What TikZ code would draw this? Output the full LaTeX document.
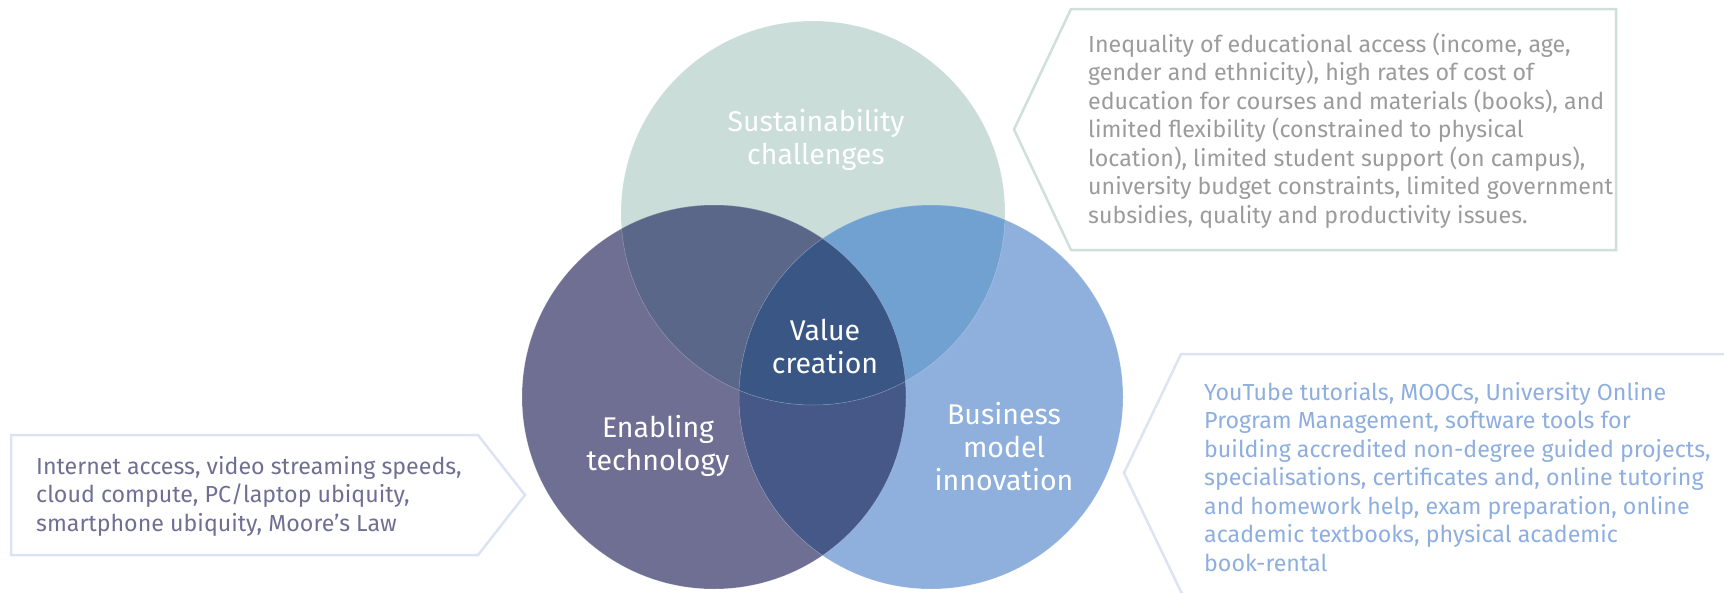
\documentclass[tikz,border=0pt]{standalone}
\usepackage{fontspec}
\setmainfont{Fira Sans}
\definecolor{sus}{HTML}{CADDD8}
\definecolor{tec}{HTML}{6F6F93}
\definecolor{bus}{HTML}{8FAFDC}
\definecolor{sustec}{HTML}{5A6788}
\definecolor{susbus}{HTML}{70A1D0}
\definecolor{tecbus}{HTML}{465888}
\definecolor{val}{HTML}{3A5684}
\definecolor{grn}{HTML}{CFE0DB}
\definecolor{lav}{HTML}{DCE3F4}
\definecolor{gry}{HTML}{9B9B9B}
\definecolor{blu}{HTML}{8DAEDE}
\begin{document}
\begin{tikzpicture}[x=1pt,y=-1pt]
\tikzstyle{lbl} = [align=center,text=white,font=\fontsize{28.5}{33}\selectfont] %circle label
\tikzstyle{note} = [anchor=north west,align=left,inner sep=0pt,font=\fontsize{23.2}{28.5}\selectfont] %callout text
\tikzstyle{box} = [line width=2.5pt,line join=miter] %callout outline
\tikzstyle{rim} = [radius=192pt] %circle size
\useasboundingbox (0,0) rectangle (1724,592);
% the three circles
\coordinate(cs)at(813,213);
\coordinate(ct)at(714,397);
\coordinate(cb)at(931,397);
\fill[sus](cs) circle[rim];
\fill[tec](ct) circle[rim];
\fill[bus](cb) circle[rim];
% overlaps
\begin{scope}
\clip(ct) circle[rim];
\fill[tecbus](cb) circle[rim];
\end{scope}
\begin{scope}
\clip(cs) circle[rim];
\fill[sustec](ct) circle[rim];
\fill[susbus](cb) circle[rim];
\clip(ct) circle[rim];
\fill[val](cb) circle[rim];
\end{scope}
\draw[white,opacity=0.3,line width=0.5pt](cs) circle[rim] (ct) circle[rim] (cb) circle[rim];
% labels
\node[lbl](ls)at(816,140){Sustainability\\challenges};
\node[lbl](lv)at(825,346){Value\\creation};
\node[lbl](lt)at(658,446){Enabling\\technology};
\node[lbl](lb)at(1004,447){Business\\model\\innovation};
% callouts
\draw[box,draw=grn](1071,9)--(1616,9)--(1616,250)--(1071,250)--(1014,129.5)--cycle;
\draw[box,draw=lav](1730,354)--(1181,354)--(1124,473)--(1184,598);
\draw[box,draw=lav](11,435)--(478,435)--(525,495)--(478,555)--(11,555)--cycle;
\node[note,text=gry](ns)at(1088,32.5){Inequality of educational access (income, age,\\
gender and ethnicity), high rates of cost of\\
education for courses and materials (books), and\\
limited flexibility (constrained to physical\\
location), limited student support (on campus),\\
university budget constraints, limited government\\
subsidies, quality and productivity issues.};
\node[note,text=blu](nb)at(1204,382){YouTube tutorials, MOOCs, University Online\\
Program Management, software tools for\\
building accredited non-degree guided projects,\\
specialisations, certificates and, online tutoring\\
and homework help, exam preparation, online\\
academic textbooks, physical academic\\
book-rental};
\node[note,text=tec](nt)at(36,456){Internet access, video streaming speeds,\\
cloud compute, PC/laptop ubiquity,\\
smartphone ubiquity, Moore’s Law};
\end{tikzpicture}
\end{document}
